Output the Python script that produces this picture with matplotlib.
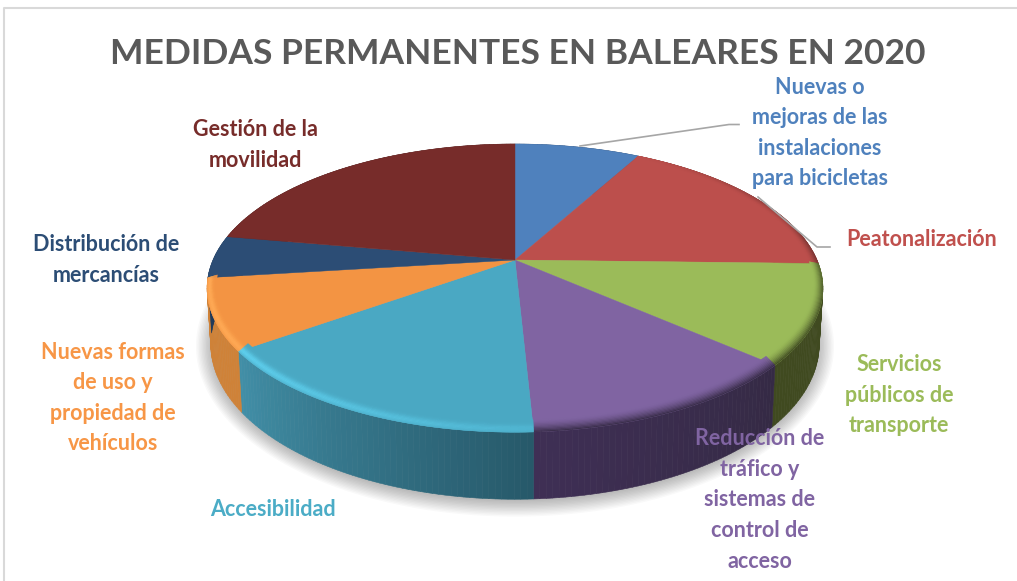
import numpy as np
import matplotlib
matplotlib.use('Agg')
import matplotlib.pyplot as plt
from matplotlib.collections import PolyCollection
from matplotlib.colors import to_rgb

title = "MEDIDAS PERMANENTES EN BALEARES EN 2020"
categories = ["Nuevas o\nmejoras de las\ninstalaciones\npara bicicletas",
              "Peatonalización",
              "Servicios\npúblicos de\ntransporte",
              "Reducción de\ntráfico y\nsistemas de\ncontrol de\nacceso",
              "Accesibilidad",
              "Nuevas formas\nde uso y\npropiedad de\nvehículos",
              "Distribución de\nmercancías",
              "Gestión de la\nmovilidad"]
counts = [10, 22, 14, 16, 20, 10, 6, 28]

top_colors = ['#4f81bd', '#bc4f4c', '#9bbb59', '#8064a2', '#4aa8c3', '#f39443', '#2c4d75', '#772c2a']
label_colors = ['#4f81bd', '#c0504d', '#9bbb59', '#8064a2', '#4bacc6', '#f79646', '#2c4d75', '#772c2a']
side_start = ['#2f4c71', '#5a2524', '#404a20', '#352a45', '#27596a', '#cf8238', '#1f3a5a', '#4a1c1b']
side_end = ['#2f4c71', '#5a2524', '#404a20', '#3f2f55', '#4290a8', '#cf8238', '#1f3a5a', '#4a1c1b']
rim_colors = ['#4f81bd', '#5e2a28', '#3c4620', '#352a45', '#5fd0ee', '#ffaa55', '#2c4d75', '#772c2a']
rim_start = [0, 0, .8, 1, .35, 1, 0, 0]
rim_end = [0, .8, 1, 1, 1, 1, 0, 0]

label_x = [820, 922, 899, 760, 273, 113, 106, 255]
label_y = [133, 239, 395, 500, 510, 398, 260, 145]

# pixel geometry of the tilted pie
cx, cy = 515, 260
R, S, k = 302, 138.6, 0.195
depth = 54


def project(t, r=1.0):
    u, v = np.sin(t) * r, np.cos(t) * r
    w = 1 + k * v
    return cx + R * u / w, cy - S * v / w, w


def mix(a, b, f):
    return tuple(np.array(to_rgb(a)) * (1 - f) + np.array(to_rgb(b)) * f)


fig = plt.figure(figsize=(10.17, 5.81), dpi=100)
ax = fig.add_axes([0, 0, 1, 1])
ax.set_xlim(0, 1017)
ax.set_ylim(581, 0)
ax.axis('off')

# frame
ax.plot([3.5, 3.5, 1017], [581, 7.5, 7.5], color='#d9d9d9', lw=1.5)

edges = np.cumsum([0] + counts) / sum(counts) * 2 * np.pi

# soft shadow
tt = np.linspace(0, 2 * np.pi, 361)
x, y, w = project(tt)
for e in np.linspace(16, 0, 12):
    ax.fill(cx + (x - cx) * .985 * (1 + e / 308), 288 + (y - 288) * (1 + e / 150) + depth / w + 2,
            color='black', alpha=.022, lw=0)

# side wall
quads, cols = [], []
for i in range(len(counts)):
    ts = np.linspace(edges[i], edges[i + 1], max(2, int((edges[i + 1] - edges[i]) * 60)))
    x, y, w = project(ts)
    xl, yl = cx + (x - cx) * .988, y + depth / w
    for j in range(len(ts) - 1):
        quads.append([(x[j], y[j]), (x[j + 1], y[j + 1]), (xl[j + 1], yl[j + 1]), (xl[j], yl[j])])
        cols.append(mix(side_start[i], side_end[i], j / (len(ts) - 1)))
ax.add_collection(PolyCollection(quads, facecolors=cols, edgecolors=cols, linewidths=.4))

# top surface
for i in range(len(counts)):
    ts = np.linspace(edges[i], edges[i + 1], 80)
    x, y, w = project(ts)
    ax.fill(np.r_[cx, x], np.r_[cy, y], color=top_colors[i], lw=.3)

# bevel along the rim
quads, cols = [], []
steps = np.linspace(0, 1, 11)
for i in range(len(counts)):
    if rim_start[i] == 0 and rim_end[i] == 0:
        continue
    light = i in (4, 5)
    ts = np.linspace(edges[i], edges[i + 1], max(2, int((edges[i + 1] - edges[i]) * 50)))
    for a in range(len(steps) - 1):
        s0, s1 = steps[a], steps[a + 1]
        x0, y0, w0 = project(ts, 1 - .03 * s0)
        x1, y1, w1 = project(ts, 1 - .03 * s1)
        front = np.clip(-np.cos(ts) + .25, 0, 1)
        y0 = y0 - 6 * s0 * front
        y1 = y1 - 6 * s1 * front
        sm = (s0 + s1) / 2
        g = np.exp(-((sm - .3) / .32) ** 2) if light else (1 - sm) ** 1.6
        for j in range(len(ts) - 1):
            f = rim_start[i] + (rim_end[i] - rim_start[i]) * j / (len(ts) - 1)
            quads.append([(x0[j], y0[j]), (x0[j + 1], y0[j + 1]), (x1[j + 1], y1[j + 1]), (x1[j], y1[j])])
            cols.append(mix(top_colors[i], rim_colors[i], f * g))
ax.add_collection(PolyCollection(quads, facecolors=cols, edgecolors=cols, linewidths=.3))

# leader lines
ax.plot([580, 729, 739], [146, 124.5, 124.5], color='#a6a6a6', lw=1.2)
ax.plot([758, 817, 830], [197, 247, 247], color='#a6a6a6', lw=1.2)

ax.text(518, 54, title, ha='center', va='center', color='#595959',
        fontsize=25.5, fontweight='bold', family='Lato')

for i, lab in enumerate(categories):
    ax.text(label_x[i], label_y[i], lab, ha='center', va='center', color=label_colors[i],
            fontsize=15.5, fontweight='bold', family='Lato', linespacing=1.56)

fig.savefig('out.png', dpi=100)
